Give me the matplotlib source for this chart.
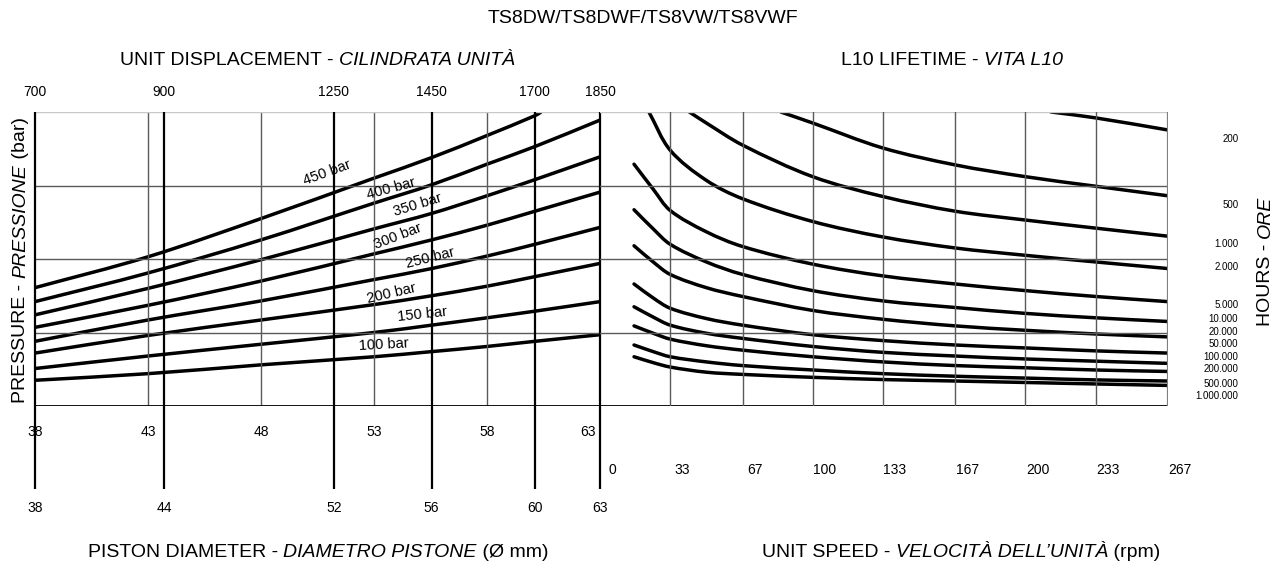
import numpy as np
import matplotlib
matplotlib.use('Agg')
import matplotlib.pyplot as plt
from matplotlib.transforms import IdentityTransform, offset_copy
from matplotlib.path import Path
from matplotlib.patches import PathPatch

plt.rcParams['font.family'] = ['Liberation Sans', 'DejaVu Sans']

# ---- left panel: pressure lines vs piston diameter (upper diameter scale) ----
dia_x = [38, 43, 48, 53, 55.55, 58, 60.12, 63]
p450_x = [38, 43, 48, 53, 55.55, 58, 60.12, 60.4]
p450_y = [1.61, 2.03, 2.55, 3.10, 3.38, 3.68, 3.95, 4.0]
p400_y = [1.42, 1.81, 2.26, 2.76, 3.01, 3.29, 3.53, 3.89]
p350_y = [1.24, 1.60, 1.99, 2.41, 2.62, 2.86, 3.08, 3.39]
p300_y = [1.07, 1.37, 1.70, 2.07, 2.26, 2.46, 2.65, 2.91]
p250_y = [0.88, 1.17, 1.43, 1.72, 1.87, 2.04, 2.20, 2.43]
p200_y = [0.72, 0.96, 1.17, 1.38, 1.50, 1.63, 1.76, 1.94]
p150_y = [0.51, 0.68, 0.84, 1.00, 1.10, 1.20, 1.29, 1.42]
p100_y = [0.35, 0.44, 0.56, 0.67, 0.74, 0.81, 0.88, 0.97]

bar_labels = ['450 bar', '400 bar', '350 bar', '300 bar', '250 bar', '200 bar', '150 bar', '100 bar']
bar_lab_x = [50.9, 53.77, 54.92, 54.06, 55.48, 53.77, 55.15, 53.42]
bar_lab_y = [3.18, 2.95, 2.74, 2.31, 2.01, 1.53, 1.24, 0.84]
bar_lab_rot = [20, 15, 17, 21, 14, 13, 6, 3]

dia_top = [38, 43, 48, 53, 58, 63]
dia_bottom = [38, 44, 52, 56, 60, 63]
dia_bottom_pos = [38, 43.71, 51.23, 55.55, 60.12, 63]
displacement = [700, 900, 1250, 1450, 1700, 1850]

# ---- right panel: L10 lifetime vs speed ----
speed_ticks = [0, 33, 67, 100, 133, 167, 200, 233, 267]
speed_x = [16, 25, 33, 50, 67, 100, 133, 167, 200, 233, 267]
h200_x = [212, 233, 267]
h200_y = [4.0, 3.92, 3.755]
h500_x = [85, 100, 133, 167, 200, 233, 267]
h500_y = [4.0, 3.85, 3.51, 3.28, 3.12, 2.99, 2.86]
h1k_x = [42, 50, 67, 100, 133, 167, 200, 233, 267]
h1k_y = [4.0, 3.85, 3.55, 3.12, 2.85, 2.65, 2.53, 2.42, 2.31]
h2k_x = [23, 33, 50, 67, 100, 133, 167, 200, 233, 267]
h2k_y = [4.0, 3.48, 3.07, 2.82, 2.51, 2.30, 2.15, 2.05, 1.96, 1.87]
h5k_y = [3.29, 2.95, 2.66, 2.37, 2.17, 1.93, 1.77, 1.66, 1.57, 1.49, 1.42]
h10k_y = [2.67, 2.41, 2.20, 1.96, 1.79, 1.57, 1.43, 1.34, 1.26, 1.20, 1.15]
h20k_y = [2.18, 1.96, 1.79, 1.61, 1.49, 1.30, 1.18, 1.09, 1.03, 0.98, 0.94]
h50k_y = [1.66, 1.47, 1.33, 1.19, 1.10, 0.97, 0.89, 0.83, 0.79, 0.75, 0.72]
h100k_y = [1.35, 1.21, 1.10, 0.99, 0.92, 0.81, 0.73, 0.68, 0.64, 0.61, 0.58]
h200k_y = [1.09, 0.99, 0.91, 0.82, 0.76, 0.67, 0.60, 0.55, 0.52, 0.49, 0.47]
h500k_y = [0.83, 0.74, 0.67, 0.60, 0.55, 0.49, 0.44, 0.405, 0.38, 0.355, 0.34]
h1m_y = [0.67, 0.59, 0.53, 0.46, 0.43, 0.39, 0.36, 0.34, 0.32, 0.30, 0.28]

hour_labels = ['200', '500', '1.000', '2.000', '5.000', '10.000', '20.000', '50.000',
               '100.000', '200.000', '500.000', '1.000.000']
hour_label_y = [3.63, 2.73, 2.21, 1.89, 1.37, 1.18, 1.01, 0.84, 0.66, 0.50, 0.30, 0.14]

W, H = 1285, 561
PX = 73.5  # pixels per y unit
GRID = '#5a5a5a'

fig = plt.figure(figsize=(W / 100, H / 100), dpi=100)


def ax_at(x0, y0, x1, y1):
    return fig.add_axes([x0 / W, 1 - y1 / H, (x1 - x0) / W, (y1 - y0) / H])


def smooth(ax, xs, ys, **kw):
    # smooth curve through the read points (chord-length cubic)
    P = np.column_stack([xs, ys]).astype(float)
    D = ax.transData.transform(P)
    t = np.concatenate([[0], np.cumsum(np.hypot(*np.diff(D, axis=0).T))])
    m = np.zeros_like(P)
    m[0] = (P[1] - P[0]) / (t[1] - t[0])
    m[-1] = (P[-1] - P[-2]) / (t[-1] - t[-2])
    for i in range(1, len(P) - 1):
        m[i] = (P[i + 1] - P[i - 1]) / (t[i + 1] - t[i - 1])
    verts, codes = [P[0]], [Path.MOVETO]
    for i in range(len(P) - 1):
        h = t[i + 1] - t[i]
        verts += [P[i] + m[i] * h / 3, P[i + 1] - m[i + 1] * h / 3, P[i + 1]]
        codes += [Path.CURVE4] * 3
    ax.add_patch(PathPatch(Path(verts, codes), fill=False, **kw))


axL = ax_at(35, 112, 600, 406)
axR = ax_at(600, 112, 1168, 406)
for ax in (axL, axR):
    ax.set_axis_off()
    ax.set_ylim(0, 4)
axL.set_xlim(38, 63)
axR.set_xlim(0, 267)

# grid
for d in dia_top[1:-1]:
    axL.axvline(d, color=GRID, lw=1.0)
for y in (1, 2, 3):
    axL.axhline(y, color=GRID, lw=1.0)
    axR.axhline(y, color=GRID, lw=1.0)
axL.axhline(4, color='#c8c8c8', lw=1.0)
axR.axhline(4, color='#c8c8c8', lw=1.0)
axL.axhline(0, color='black', lw=1.3)
axR.axhline(0, color='black', lw=1.3)
for s in speed_ticks[1:-1]:
    axR.axvline(s, color=GRID, lw=1.0)
axR.axvline(speed_ticks[-1], color='#808080', lw=1.6)

# thick displacement / lower diameter lines
low = -83 / PX
for d in dia_bottom_pos:
    axL.plot([d, d], [low, 4], color='black', lw=1.6, clip_on=False, solid_capstyle='butt')

# pressure curves
p_curves = [(p450_x, p450_y), (dia_x, p400_y), (dia_x, p350_y), (dia_x, p300_y),
            (dia_x, p250_y), (dia_x, p200_y), (dia_x, p150_y), (dia_x, p100_y)]
for xs, ys in p_curves:
    smooth(axL, xs, ys, edgecolor='black', lw=2.5, capstyle='butt')
for lab, x, y, r in zip(bar_labels, bar_lab_x, bar_lab_y, bar_lab_rot):
    axL.text(x, y, lab, fontsize=10.5, rotation=r, rotation_mode='anchor',
             ha='center', va='center')

# lifetime curves
h_curves = [(h200_x, h200_y), (h500_x, h500_y), (h1k_x, h1k_y), (h2k_x, h2k_y),
            (speed_x, h5k_y), (speed_x, h10k_y), (speed_x, h20k_y), (speed_x, h50k_y),
            (speed_x, h100k_y), (speed_x, h200k_y), (speed_x, h500k_y), (speed_x, h1m_y)]
for xs, ys in h_curves:
    smooth(axR, xs, ys, edgecolor='black', lw=2.5, capstyle='round')

# tick labels
for i, d in enumerate(dia_top):
    if i == len(dia_top) - 1:
        axL.text(d, -26 / PX, str(d), fontsize=10, ha='right', va='center',
                 transform=offset_copy(axL.transData, fig=fig, x=-4, y=0, units='dots'))
    else:
        axL.text(d, -26 / PX, str(d), fontsize=10, ha='center', va='center')
for d, p in zip(dia_bottom, dia_bottom_pos):
    axL.text(p, -102 / PX, str(d), fontsize=10, ha='center', va='center')
for v, p in zip(displacement, dia_bottom_pos):
    axL.text(p, 314 / PX, str(v), fontsize=10, ha='center', va='center')
sp_tr = offset_copy(axR.transData, fig=fig, x=12, y=0, units='dots')
for s in speed_ticks:
    axR.text(s, -64 / PX, str(s), fontsize=10, ha='center', va='center', transform=sp_tr)
for lab, y in zip(hour_labels, hour_label_y):
    axR.text(300, y, lab, fontsize=7, ha='right', va='center')


def rich(x, y, parts, size, rot=False):
    # x, y: centre (pixels from top-left); parts drawn one after another
    r = fig.canvas.get_renderer()
    arts, ws = [], []
    for s, st in parts:
        t = fig.text(0, 0, s, fontsize=size, style=st, transform=IdentityTransform(),
                     ha='left', va='baseline', rotation=90 if rot else 0,
                     rotation_mode='anchor')
        bb = t.get_window_extent(r)
        arts.append(t)
        ws.append(bb.height if rot else bb.width)
    cap = size * 100 / 72 * 0.72
    pos = -sum(ws) / 2
    for t, w in zip(arts, ws):
        if rot:
            t.set_position((x + cap / 2, H - y + pos))
        else:
            t.set_position((x + pos, H - y - cap / 2))
        pos += w


rich(643, 16, [('TS8DW/TS8DWF/TS8VW/TS8VWF', 'normal')], 14)
rich(318, 58, [('UNIT DISPLACEMENT - ', 'normal'), ('CILINDRATA UNITÀ', 'italic')], 14)
rich(952, 58, [('L10 LIFETIME - ', 'normal'), ('VITA L10', 'italic')], 14)
rich(318, 550, [('PISTON DIAMETER - ', 'normal'), ('DIAMETRO PISTONE', 'italic'),
                (' (Ø mm)', 'normal')], 14)
rich(961, 550, [('UNIT SPEED - ', 'normal'), ('VELOCITÀ DELL’UNITÀ', 'italic'),
                (' (rpm)', 'normal')], 14)
rich(18, 260, [('PRESSURE - ', 'normal'), ('PRESSIONE', 'italic'), (' (bar)', 'normal')], 14, rot=True)
rich(1263, 261, [('HOURS - ', 'normal'), ('ORE', 'italic')], 14, rot=True)

fig.savefig('out.png', dpi=100)
